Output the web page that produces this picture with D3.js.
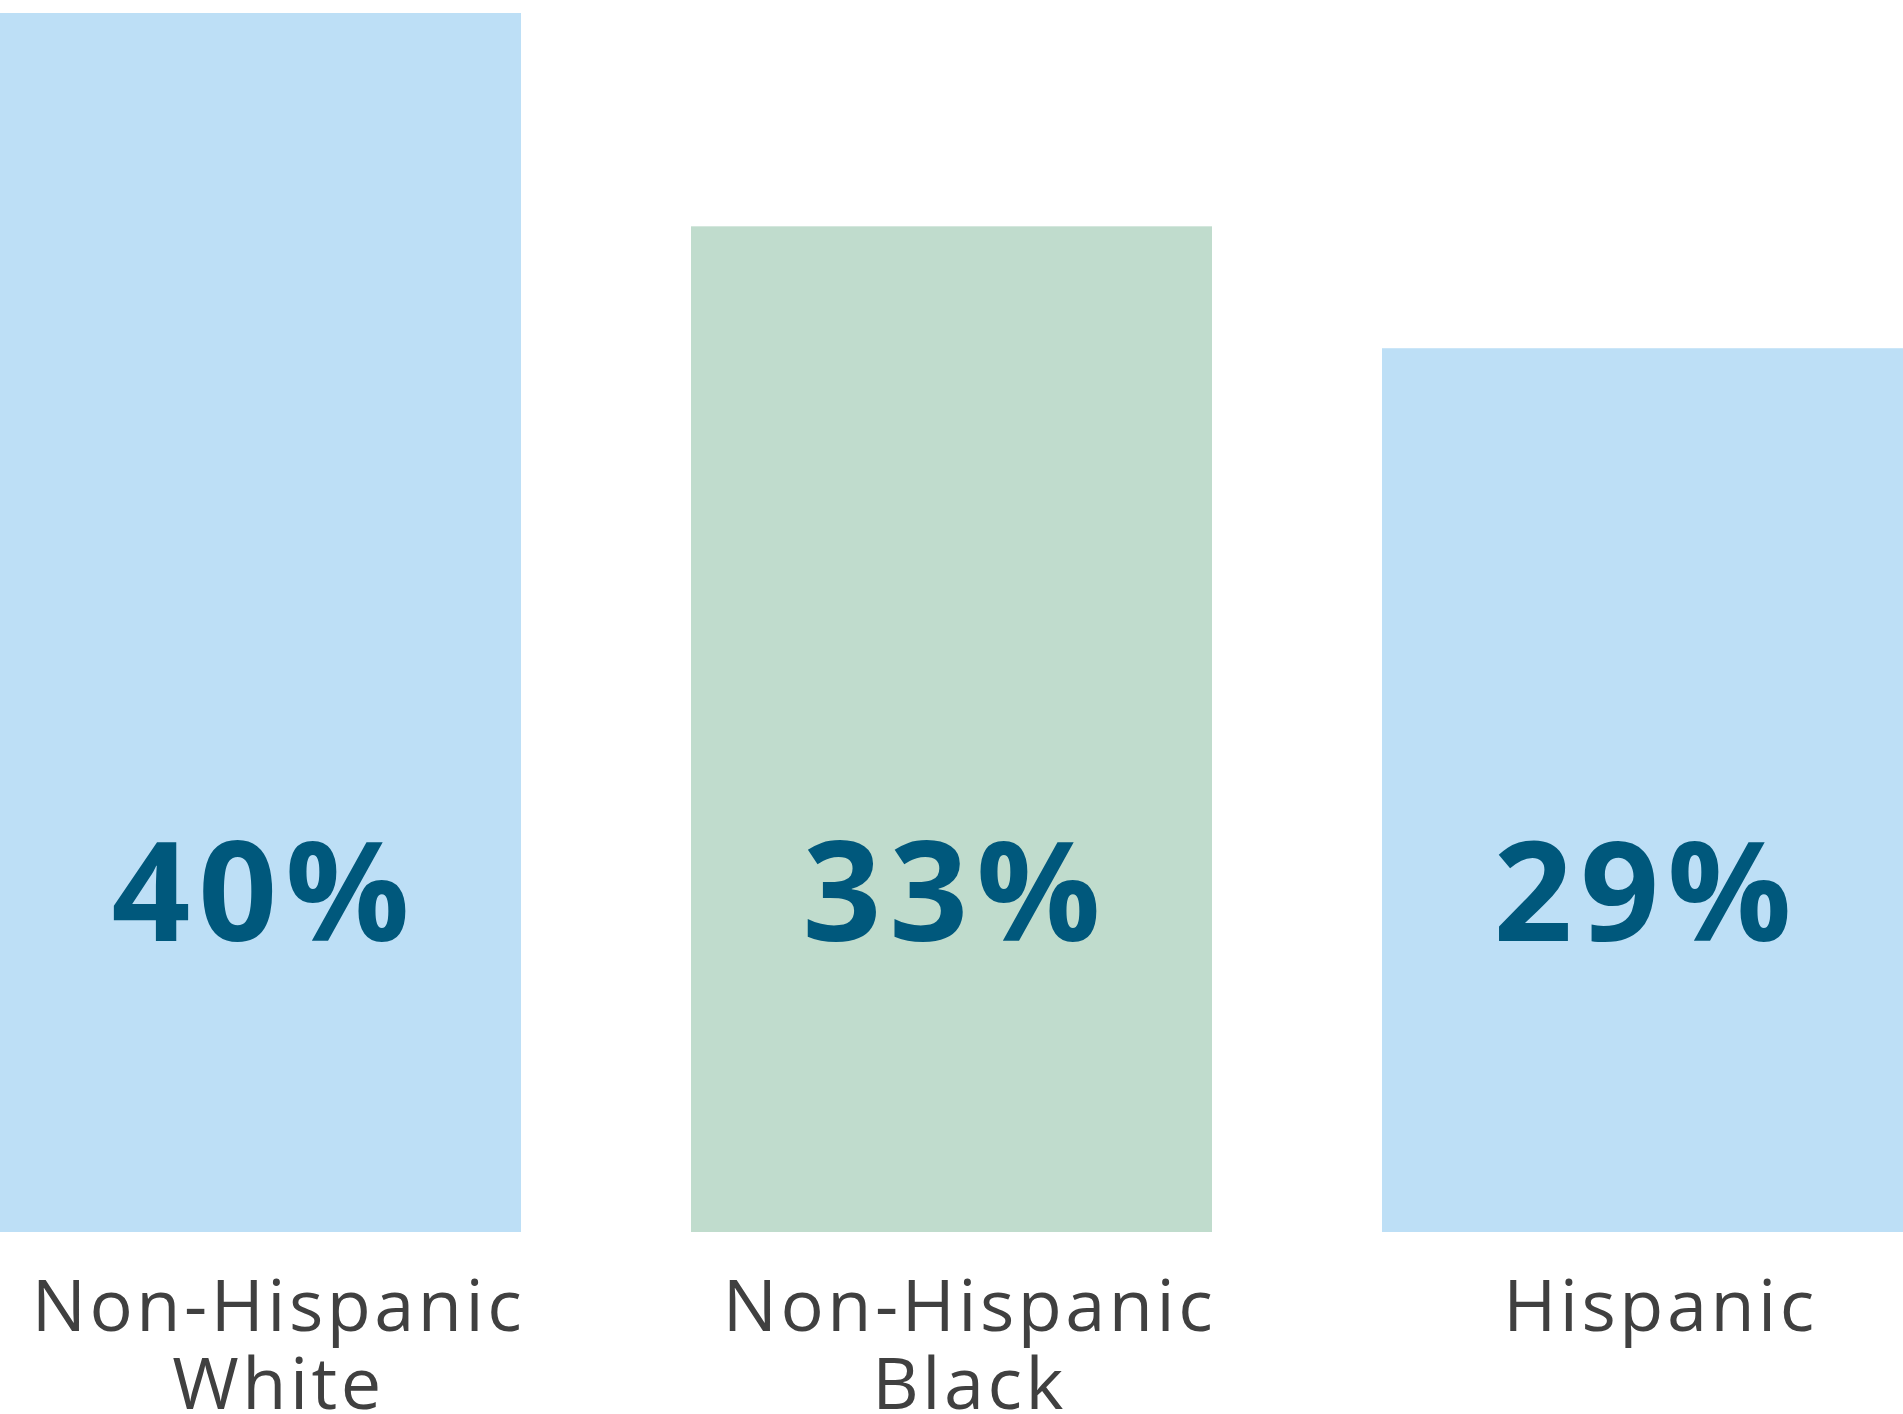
<!DOCTYPE html>
<html><head><meta charset="utf-8">
<script src="https://cdn.jsdelivr.net/npm/d3@7"></script>
<style>
html,body{margin:0;padding:0;background:#fff;}
svg{display:block;}
.val{font-family:"Open Sans",sans-serif;font-weight:700;fill:#00587c;}
.cat{font-family:"Open Sans",sans-serif;font-weight:400;fill:#404040;}
</style></head>
<body>
<svg id="chart" width="1903" height="1414"></svg>
<script>
const categories = [["Non-Hispanic","White"],["Non-Hispanic","Black"],["Hispanic"]];
const values = [40, 33, 29];
const valueLabels = ["40%", "33%", "29%"];
const colors = ["#bddff6", "#c0dccd", "#bddff6"];

const W = 1903, H = 1414;
const svg = d3.select("#chart");
const keys = categories.map((c,i)=>i);
const x = d3.scaleBand().domain(keys).range([0, W]).paddingInner(0.246).paddingOuter(0);
const y = d3.scaleLinear().domain([0, 40]).range([1232, 13]);

svg.selectAll("rect.bar").data(values).join("rect")
  .attr("class","bar")
  .attr("x",(d,i)=>x(i)).attr("width",x.bandwidth())
  .attr("y",d=>y(d)).attr("height",d=>y(0)-y(d))
  .attr("fill",(d,i)=>colors[i]);

svg.selectAll("text.val").data(valueLabels).join("text")
  .attr("class","val")
  .attr("x",(d,i)=>x(i)+x.bandwidth()/2+4)
  .attr("y",941)
  .attr("text-anchor","middle")
  .style("font-size","138px")
  .style("letter-spacing","8px")
  .text(d=>d);

const g = svg.selectAll("text.cat").data(categories).join("text")
  .attr("class","cat")
  .attr("x",(d,i)=>x(i)+x.bandwidth()/2+18)
  .attr("y",1331)
  .attr("text-anchor","middle")
  .style("font-size","72px")
  .style("letter-spacing","3.5px");
g.selectAll("tspan").data(d=>d).join("tspan")
  .attr("x",function(){return this.parentNode.getAttribute("x");})
  .attr("dy",(d,j)=>j===0?0:78)
  .text(d=>d);
</script>
</body></html>
